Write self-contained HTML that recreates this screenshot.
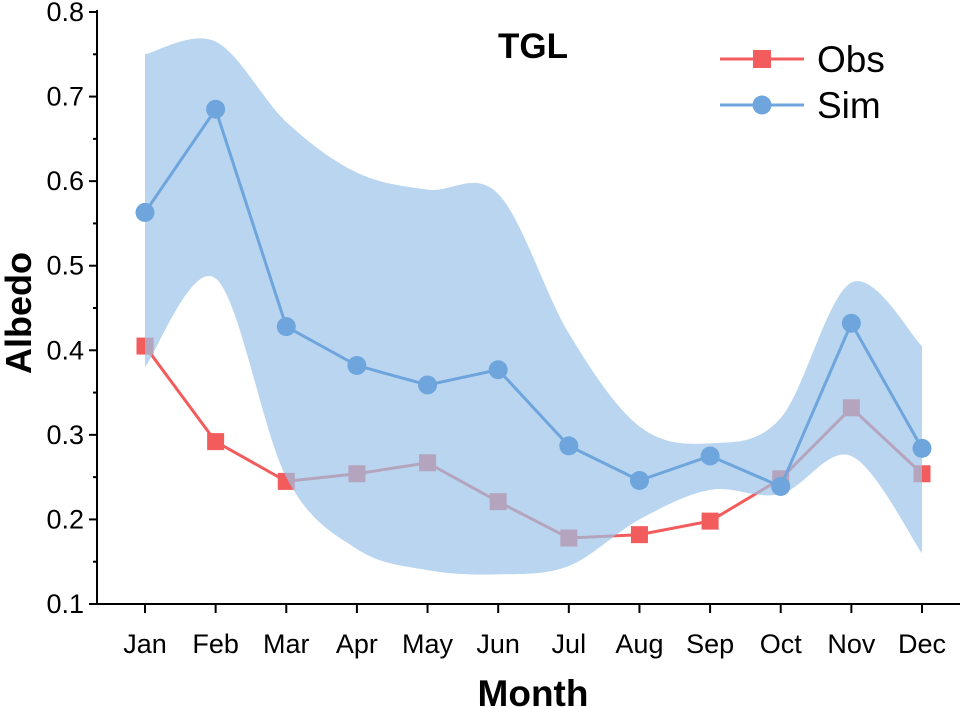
<!DOCTYPE html>
<html><head><meta charset="utf-8">
<style>
html,body{margin:0;padding:0;background:#fff;}
svg{display:block;font-family:"Liberation Sans",Arial,sans-serif;}
</style></head>
<body>
<svg id="chart" width="960" height="707" viewBox="0 0 960 707">
  <g id="axes"></g>
  <g id="series"></g>
  <text x="533" y="58" text-anchor="middle" font-size="35" font-weight="bold">TGL</text>
  <g>
    <g>
      <line x1="720" y1="59" x2="804" y2="59" stroke="#f25c5c" stroke-width="3"/>
      <rect x="753" y="50" width="18" height="18" fill="#f25c5c"/>
      <text x="817" y="72" font-size="37">Obs</text>
    </g>
    <g>
      <line x1="720" y1="105" x2="804" y2="105" stroke="#6fa5dd" stroke-width="3"/>
      <circle cx="762" cy="105" r="9.5" fill="#6fa5dd"/>
      <text x="817" y="118" font-size="37">Sim</text>
    </g>
  </g>
  <text x="533" y="706" text-anchor="middle" font-size="37" font-weight="bold">Month</text>
  <text transform="translate(31,313) rotate(-90)" text-anchor="middle" font-size="36" font-weight="bold">Albedo</text>
</svg>
<script>
const months = ["Jan","Feb","Mar","Apr","May","Jun","Jul","Aug","Sep","Oct","Nov","Dec"];
const obsValues = [0.405,0.292,0.245,0.254,0.267,0.221,0.178,0.182,0.198,0.248,0.332,0.254];
const simValues = [0.563,0.685,0.428,0.382,0.359,0.377,0.287,0.246,0.275,0.239,0.432,0.284];
const bandUpper = [0.75,0.765,0.67,0.61,0.59,0.585,0.42,0.31,0.29,0.32,0.48,0.405];
const bandLower = [0.38,0.485,0.25,0.165,0.14,0.135,0.145,0.2,0.235,0.23,0.275,0.16];
const yTicks = [0.1,0.2,0.3,0.4,0.5,0.6,0.7,0.8];

const NS="http://www.w3.org/2000/svg";
const xScale = i => 145 + i*(922-145)/11;
const yScale = v => 604 - (v-0.1)*(604-12)/0.7;
function mk(tag, attrs, parent){const e=document.createElementNS(NS,tag);for(const k in attrs)e.setAttribute(k,attrs[k]);parent.appendChild(e);return e;}

function smoothPath(pts, move){
  let d = move ? `M${pts[0][0]},${pts[0][1]}` : `L${pts[0][0]},${pts[0][1]}`;
  for(let i=0;i<pts.length-1;i++){
    const p0=pts[Math.max(0,i-1)],p1=pts[i],p2=pts[i+1],p3=pts[Math.min(pts.length-1,i+2)];
    const c1=[p1[0]+(p2[0]-p0[0])/6,p1[1]+(p2[1]-p0[1])/6];
    const c2=[p2[0]-(p3[0]-p1[0])/6,p2[1]-(p3[1]-p1[1])/6];
    d+=` C${c1[0]},${c1[1]} ${c2[0]},${c2[1]} ${p2[0]},${p2[1]}`;
  }
  return d;
}

const axes=document.getElementById('axes');
const series=document.getElementById('series');

const yAxis=mk('line',{x1:97,y1:10,x2:97,y2:605,stroke:'#000','stroke-width':2},axes);


const xAxis=mk('line',{x1:96,y1:604,x2:960,y2:604,stroke:'#000','stroke-width':2},axes);



yTicks.forEach((v,i)=>{
  const y=yScale(v);
  mk('line',{x1:89,y1:y,x2:97,y2:y,stroke:'#000','stroke-width':2},axes);
  if(i<yTicks.length-1){const ym=yScale(v+0.05);mk('line',{x1:93,y1:ym,x2:97,y2:ym,stroke:'#000','stroke-width':2},axes);}
  const t=mk('text',{x:84,y:y+9,'text-anchor':'end','font-size':27},axes);
  t.textContent=v.toFixed(1);
  
  
});
months.forEach((m,i)=>{
  const x=xScale(i);
  mk('line',{x1:x,y1:604,x2:x,y2:613,stroke:'#000','stroke-width':2},axes);
  const t=mk('text',{x:x,y:653,'text-anchor':'middle','font-size':27},axes);
  t.textContent=m;
  
  
});

const obsPts=obsValues.map((v,i)=>[xScale(i),yScale(v)]);
const obsLine=mk('polyline',{points:obsPts.map(p=>p.join(',')).join(' '),fill:'none',stroke:'#f25c5c','stroke-width':3},series);


obsPts.forEach(p=>{
  const r=mk('rect',{x:p[0]-8.5,y:p[1]-8.5,width:17,height:17,fill:'#f25c5c'},series);
  
  
});

const up=bandUpper.map((v,i)=>[xScale(i),yScale(v)]);
const lo=bandLower.map((v,i)=>[xScale(i),yScale(v)]).reverse();
const band=mk('path',{d:smoothPath(up,true)+' '+smoothPath(lo,false)+' Z',fill:'rgb(155,195,232)','fill-opacity':0.7},series);



const simPts=simValues.map((v,i)=>[xScale(i),yScale(v)]);
const simLine=mk('polyline',{points:simPts.map(p=>p.join(',')).join(' '),fill:'none',stroke:'#6fa5dd','stroke-width':3},series);


simPts.forEach(p=>{
  const c=mk('circle',{cx:p[0],cy:p[1],r:9.5,fill:'#6fa5dd'},series);
  
  
});
</script>
</body></html>
